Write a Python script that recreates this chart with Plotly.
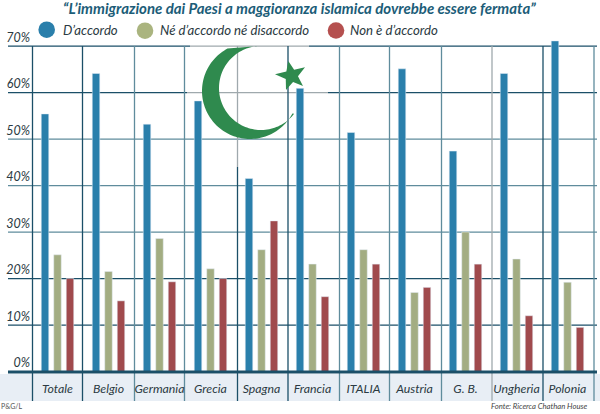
import numpy as np
import plotly.graph_objects as go

W, H = 600, 414

categories = ['Totale', 'Belgio', 'Germania', 'Grecia', 'Spagna', 'Francia',
              'ITALIA', 'Austria', 'G. B.', 'Ungheria', 'Polonia']
accordo = [55.5, 64.2, 53.3, 58.3, 41.6, 61, 51.5, 65.2, 47.5, 64.2, 71.2]
neutro = [25.2, 21.6, 28.7, 22.2, 26.3, 23.2, 26.3, 17.1, 30.1, 24.3, 19.3]
disaccordo = [20.1, 15.3, 19.4, 20.1, 32.5, 16.2, 23.2, 18.2, 23.2, 12.1, 9.6]
y_ticks = [0, 10, 20, 30, 40, 50, 60, 70]

BLUE = '#2a7fab'
GREEN = '#a3ad82'
RED = '#a04a4d'
DARK = '#1b4f68'
TEAL = '#5f8c9c'
GREY = '#9fa9ad'
FONT = 'Lato'

# figure fractions from pixels, margins are 0 so paper = whole page
def px(x):
    return x / W

def py(y):
    return 1 - y / H

def poly(points):
    path = 'M ' + ' L '.join(f'{px(x):.5f},{py(y):.5f}' for x, y in points) + ' Z'
    return path

def hline(y, x0, x1, color, width=1.3):
    return dict(type='line', xref='paper', yref='paper', layer='below',
                x0=px(x0), x1=px(x1), y0=py(y), y1=py(y),
                line=dict(color=color, width=width))

def vline(x, y0, y1, color, width=1.3):
    return dict(type='line', xref='paper', yref='paper', layer='below',
                x0=px(x), x1=px(x), y0=py(y0), y1=py(y1),
                line=dict(color=color, width=width))

def dot(cx, cy, r, color):
    return dict(type='circle', xref='paper', yref='paper', x0=px(cx - r), x1=px(cx + r),
                y0=py(cy + r), y1=py(cy - r), fillcolor=color, line=dict(width=0))

def label(x, y, text, size, color='#2b3a42', anchor='left', bold=False):
    if bold:
        text = f'<b>{text}</b>'
    return dict(xref='paper', yref='paper', x=px(x), y=py(y), text=text, showarrow=False,
                xanchor=anchor, yanchor='middle', font=dict(family=FONT, size=size, color=color))

def y_px(v):
    return 371.7 - v * 4.65

shapes = []

# label band under the axis
shapes.append(dict(type='rect', xref='paper', yref='paper', layer='below',
                   x0=0, x1=1, y0=py(401), y1=py(374),
                   fillcolor='#e8eef5', line=dict(width=0)))

# horizontal lines
for v, color in [(50, TEAL), (40, TEAL), (30, TEAL), (20, DARK), (10, DARK)]:
    shapes.append(hline(y_px(v), 8, 597, color))
shapes.append(hline(y_px(70), 8, 190, DARK))
shapes.append(hline(y_px(70), 190, 309, GREY))
shapes.append(hline(y_px(70), 309, 597, DARK))
shapes.append(hline(y_px(60), 8, 187, DARK))
shapes.append(hline(y_px(60), 187, 328, GREY))
shapes.append(hline(y_px(60), 328, 597, DARK))

# vertical lines
for x, color in [(32.5, DARK), (82.5, DARK), (134.5, TEAL), (184.5, TEAL), (288, DARK),
                 (339.5, TEAL), (389.5, TEAL), (441.5, TEAL), (492, GREY), (543, DARK),
                 (594, TEAL)]:
    shapes.append(vline(x, 46, 401, color))
shapes.append(vline(237.5, 46, 167, GREY))
shapes.append(vline(237.5, 167, 401, DARK))

# crescent and star
outer = [(250 - 48 * np.cos(a), 91 + 48 * np.sin(a)) for a in np.radians(np.linspace(-62, 152, 90))]
inner = [(261 - 42 * np.cos(a), 88 + 42 * np.sin(a)) for a in np.radians(np.linspace(142, -85, 90))]
shapes.append(dict(type='path', xref='paper', yref='paper', layer='below',
                   path=poly(outer + inner), fillcolor='#2f8a4e', line=dict(width=0)))

tips = [(288.3, 61), (305, 67.3), (303, 86), (286, 90), (275, 74.3)]
cx, cy = np.mean(tips, axis=0)
star = []
for i, (x, y) in enumerate(tips):
    nx, ny = tips[(i + 1) % 5]
    star.append((x, y))
    star.append((cx + ((x + nx) / 2 - cx) * 0.52, cy + ((y + ny) / 2 - cy) * 0.52))
shapes.append(dict(type='path', xref='paper', yref='paper', layer='below',
                   path=poly(star), fillcolor='#2f8a4e', line=dict(width=0)))

# legend dots
shapes.append(dot(46.7, 29.7, 8.3, BLUE))
shapes.append(dot(145, 30.7, 8.3, '#aab47f'))
shapes.append(dot(336, 30.5, 8.3, '#b5504f'))

# base line on top of the bars
shapes.append(dict(type='line', xref='paper', yref='paper', x0=px(8), x1=px(597),
                   y0=py(372), y1=py(372), line=dict(color=DARK, width=3)))

annotations = [
    label(61, 8.5, '<i>“L’immigrazione dai Paesi a maggioranza islamica dovrebbe essere fermata”</i>',
          15, color='#1c5d78', bold=True),
    label(61, 30.5, '<i>D’accordo</i>', 13.2),
    label(158, 30.5, '<i>Né d’accordo né disaccordo</i>', 13.2),
    label(348, 30.5, '<i>Non è d’accordo</i>', 13.2),
    label(-1, 406, 'P&G/L', 7, color='#555555'),
    label(489, 406, '<i>Fonte: Ricerca Chathan House</i>', 7.7, color='#444444'),
]

fig = go.Figure()
fig.add_trace(go.Bar(x=categories, y=accordo, name='D’accordo', marker_color=BLUE))
fig.add_trace(go.Bar(x=categories, y=neutro, name='Né d’accordo né disaccordo', marker_color=GREEN))
fig.add_trace(go.Bar(x=categories, y=disaccordo, name='Non è d’accordo', marker_color=RED))

fig.update_layout(
    width=W, height=H,
    margin=dict(l=0, r=0, t=0, b=0),
    paper_bgcolor='white', plot_bgcolor='rgba(0,0,0,0)',
    barmode='group', bargap=0.265, bargroupgap=0.4,
    showlegend=False,
    shapes=shapes,
    annotations=annotations,
)
fig.update_xaxes(domain=[px(32), px(593)], range=[-0.5, 10.5], showgrid=False, zeroline=False,
                 automargin=False,
                 tickfont=dict(family=FONT, size=12.3, color='#2b3a42', style='italic'),
                 ticklabelstandoff=8, tickangle=0)
fig.update_yaxes(domain=[py(372), py(37.2)], range=[0, 72], showgrid=False, zeroline=False,
                 automargin=False,
                 tickvals=y_ticks, ticktext=[f'{v}%' for v in y_ticks],
                 tickfont=dict(family=FONT, size=12.5, color='#2b3a42', style='italic'),
                 ticklabelstandoff=1, ticklabelshift=-9)

# the page's default body margin would push the fixed size figure out of the window
fig.write_html('out.html', config={'displayModeBar': False},
               post_script="document.body.style.margin='0';")
